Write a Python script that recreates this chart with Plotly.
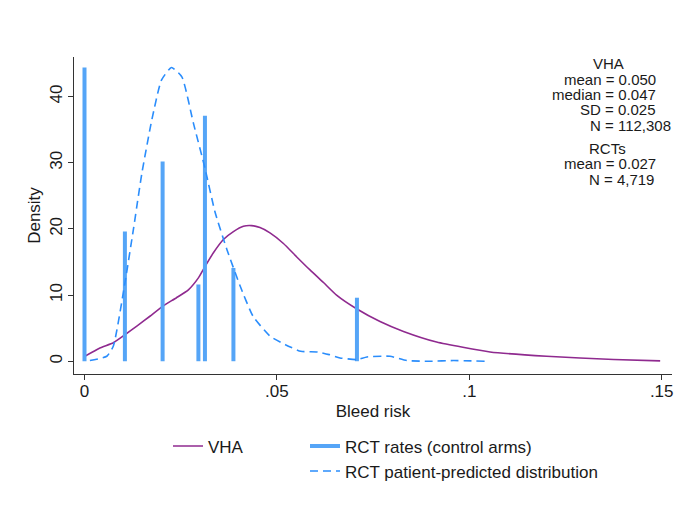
import plotly.graph_objects as go

# ---------------- data ----------------
vha_x = [0.0001, 0.0040, 0.0075, 0.0105, 0.0136, 0.0170, 0.0203, 0.0239, 0.0270, 0.0296,
         0.0313, 0.0335, 0.0361, 0.0387, 0.0413, 0.0434, 0.0456, 0.0482, 0.0517, 0.0551,
         0.0586, 0.0621, 0.0655, 0.0708, 0.0768, 0.0829, 0.0915, 0.1054, 0.1201, 0.1375, 0.1496]
vha_y = [0.75, 2.0, 2.8, 4.0, 5.3, 6.8, 8.3, 9.6, 10.8, 12.6,
         14.3, 16.4, 18.4, 19.6, 20.4, 20.5, 20.2, 19.4, 17.8, 15.8,
         13.8, 11.9, 10.0, 7.9, 6.0, 4.5, 2.9, 1.4, 0.75, 0.26, 0.05]

pred_x = [0.0014, 0.0058, 0.0075, 0.0105, 0.0127, 0.0149, 0.0175, 0.0200, 0.0226, 0.0253,
          0.0283, 0.0313, 0.0339, 0.0370, 0.0405, 0.0438, 0.0482, 0.0522, 0.0562, 0.0606,
          0.0636, 0.0664, 0.0708, 0.0734, 0.0794, 0.0838, 0.0898, 0.0959, 0.1041]
pred_y = [0.1, 0.75, 2.3, 11.8, 19.9, 28.4, 36.5, 42.5, 44.4, 43.0,
          36.0, 29.2, 22.6, 16.9, 11.3, 6.8, 3.8, 2.5, 1.5, 1.4,
          1.0, 0.5, 0.25, 0.65, 0.75, 0.1, 0.0, 0.1, 0.0]

rct_rates = [0.0000, 0.0105, 0.0203, 0.0296, 0.0313, 0.0387, 0.0708]
rct_heights = [44.4, 19.6, 30.2, 11.6, 37.1, 14.1, 9.6]

x_tickvals = [0, 0.05, 0.1, 0.15]
x_ticktext = ["0", ".05", ".1", ".15"]
y_tickvals = [0, 10, 20, 30, 40]

vha_stats = ["VHA", "mean = 0.050", "median = 0.047", "SD = 0.025", "N = 112,308"]
rct_stats = ["RCTs", "mean = 0.027", "N = 4,719"]

# ---------------- styling ----------------
OFF = 8                      # page body margin in the screenshot
W, H = 689 - OFF, 509 - OFF
L, R, T, B = 74, 672, 57, 374.5   # plot area, screenshot pixels
FONT = "Liberation Sans, Arial, sans-serif"
PURPLE = "#8f2a8f"
SPIKE = "#55a5f7"
DASHC = "#2a8dfc"
TXT = "#1a1a1a"
X0PX, XSCALE = 84.5, 3848.0      # pixel of x=0, pixels per unit
Y0PX, YSCALE = 361.7, 6.625


def px(p):
    return (p - L) / (R - L)


def py(p):
    return (B - p) / (B - T)


spike_x, spike_y = [], []
for xv, hv in zip(rct_rates, rct_heights):
    spike_x += [xv, xv, None]
    spike_y += [0, hv, None]

fig = go.Figure()
fig.add_trace(go.Scatter(x=vha_x, y=vha_y, mode="lines", name="VHA", showlegend=True,
                         line=dict(color=PURPLE, width=1.6, shape="spline", smoothing=0.5),
                         legend="legend"))
fig.add_trace(go.Scatter(x=spike_x, y=spike_y, mode="lines", name="RCT rates (control arms)",
                         showlegend=True, line=dict(color=SPIKE, width=4), legend="legend2"))
fig.add_trace(go.Scatter(x=pred_x, y=pred_y, mode="lines", name="RCT patient-predicted distribution",
                         showlegend=True,
                         line=dict(color=DASHC, width=1.6, dash="8px,5px", shape="spline", smoothing=0.5),
                         legend="legend2"))

annos = []
vha_centers = [608, 610, 604, 617, 630]
vha_ys = [64, 80, 95, 110, 126]
for t, cx, cy in zip(vha_stats, vha_centers, vha_ys):
    annos.append(dict(text=t, x=px(cx), y=py(cy), xref="paper", yref="paper",
                      xanchor="center", yanchor="middle", showarrow=False,
                      font=dict(family=FONT, size=15, color=TXT)))
rct_centers = [607, 610, 621]
rct_ys = [149, 164, 180]
for t, cx, cy in zip(rct_stats, rct_centers, rct_ys):
    annos.append(dict(text=t, x=px(cx), y=py(cy), xref="paper", yref="paper",
                      xanchor="center", yanchor="middle", showarrow=False,
                      font=dict(family=FONT, size=15, color=TXT)))

fig.update_layout(
    width=W, height=H,
    margin=dict(l=L - OFF, r=W - (R - OFF), t=T - OFF, b=H - (B - OFF), autoexpand=False),
    showlegend=True,
    paper_bgcolor="white", plot_bgcolor="white",
    font=dict(family=FONT, size=17, color=TXT),
    annotations=annos,
    legend=dict(x=px(168), y=py(429), xanchor="left", yanchor="top",
                bgcolor="rgba(0,0,0,0)", borderwidth=0,
                font=dict(family=FONT, size=17, color=TXT)),
    legend2=dict(x=px(305), y=py(429), xanchor="left", yanchor="top",
                 bgcolor="rgba(0,0,0,0)", borderwidth=0, tracegroupgap=0,
                 font=dict(family=FONT, size=17, color=TXT)),
)

fig.update_xaxes(range=[(L - X0PX) / XSCALE, (R - X0PX) / XSCALE], automargin=False,
                 tickvals=x_tickvals, ticktext=x_ticktext,
                 showline=True, linecolor="#333333", linewidth=1,
                 ticks="outside", ticklen=5, tickcolor="#333333",
                 ticklabelstandoff=-3,
                 showgrid=False, zeroline=False,
                 tickfont=dict(family=FONT, size=17, color=TXT),
                 title=dict(text="Bleed risk", standoff=4,
                            font=dict(family=FONT, size=17, color=TXT)))
fig.update_yaxes(range=[(Y0PX - B) / YSCALE, (Y0PX - T) / YSCALE], automargin=False,
                 tickvals=y_tickvals, tickangle=-90,
                 showline=True, linecolor="#333333", linewidth=1,
                 ticks="outside", ticklen=5, tickcolor="#333333",
                 ticklabelstandoff=-1,
                 showgrid=False, zeroline=False,
                 tickfont=dict(family=FONT, size=17, color=TXT),
                 title=dict(text="Density", standoff=2,
                            font=dict(family=FONT, size=17, color=TXT)))

fig.write_html("out.html")
